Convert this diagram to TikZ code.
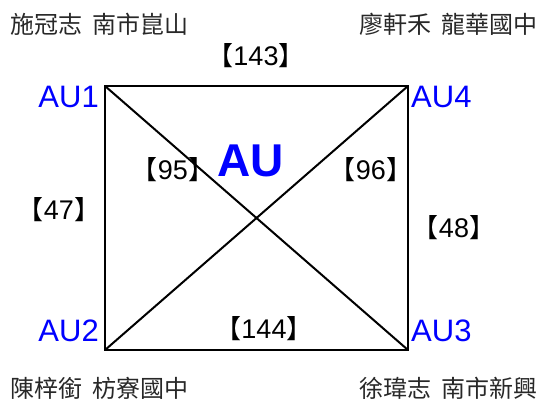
\documentclass[tikz,border=0pt]{standalone}
\usepackage{fontspec}
\setmainfont{Liberation Sans}
\newfontfamily\cjk{Noto Sans CJK TC}
\definecolor{aublue}{RGB}{0,0,255}
\definecolor{namegray}{RGB}{40,40,40}
\tikzset{
  corner/.style={inner sep=0pt, text=aublue, font=\fontsize{31}{31}\selectfont},
  title/.style={inner sep=0pt, text=aublue, font=\bfseries\fontsize{46}{46}\selectfont},
  weight/.style={inner sep=0pt, text=black, font=\fontsize{27}{27}\selectfont},
  person/.style={inner sep=0pt, text=namegray, font=\cjk\fontsize{24}{24}\selectfont},
  edge/.style={draw=black, line width=2pt, line join=miter},
}
\newcommand{\wt}[1]{{\cjk\fontsize{26}{26}\selectfont 【}#1{\cjk\fontsize{26}{26}\selectfont 】}}
\begin{document}
\begin{tikzpicture}[x=1pt,y=-1pt]
\useasboundingbox (0,0) rectangle (541,408);
\coordinate (c1) at (105,86);
\coordinate (c4) at (408,86);
\coordinate (c2) at (105,350);
\coordinate (c3) at (408,350);
\draw[edge] (c1) -- (c4) -- (c3) -- (c2) -- cycle;
\draw[edge] (c1) -- (c3);
\draw[edge] (c4) -- (c2);
\node[corner, anchor=east] (au1) at (99,97) {AU1};
\node[corner, anchor=west] (au4) at (411,97) {AU4};
\node[corner, anchor=east] (au2) at (99,331) {AU2};
\node[corner, anchor=west] (au3) at (411,331) {AU3};
\node[title] (au) at (251,161) {AU};
\node[weight] (w143) at (256,56) {\wt{143}};
\node[weight] (w95) at (173,170) {\wt{95}};
\node[weight] (w96) at (371,170) {\wt{96}};
\node[weight] (w47) at (59,210) {\wt{47}};
\node[weight] (w48) at (454,228) {\wt{48}};
\node[weight] (w144) at (264,329) {\wt{144}};
\node[person, anchor=west] (p1) at (10,24) {施冠志\hspace{0.45em}南市崑山};
\node[person, anchor=east] (p4) at (538,24) {廖軒禾\hspace{0.45em}龍華國中};
\node[person, anchor=west] (p2) at (10,388) {陳梓銜\hspace{0.45em}枋寮國中};
\node[person, anchor=east] (p3) at (538,388) {徐瑋志\hspace{0.45em}南市新興};
\end{tikzpicture}
\end{document}
